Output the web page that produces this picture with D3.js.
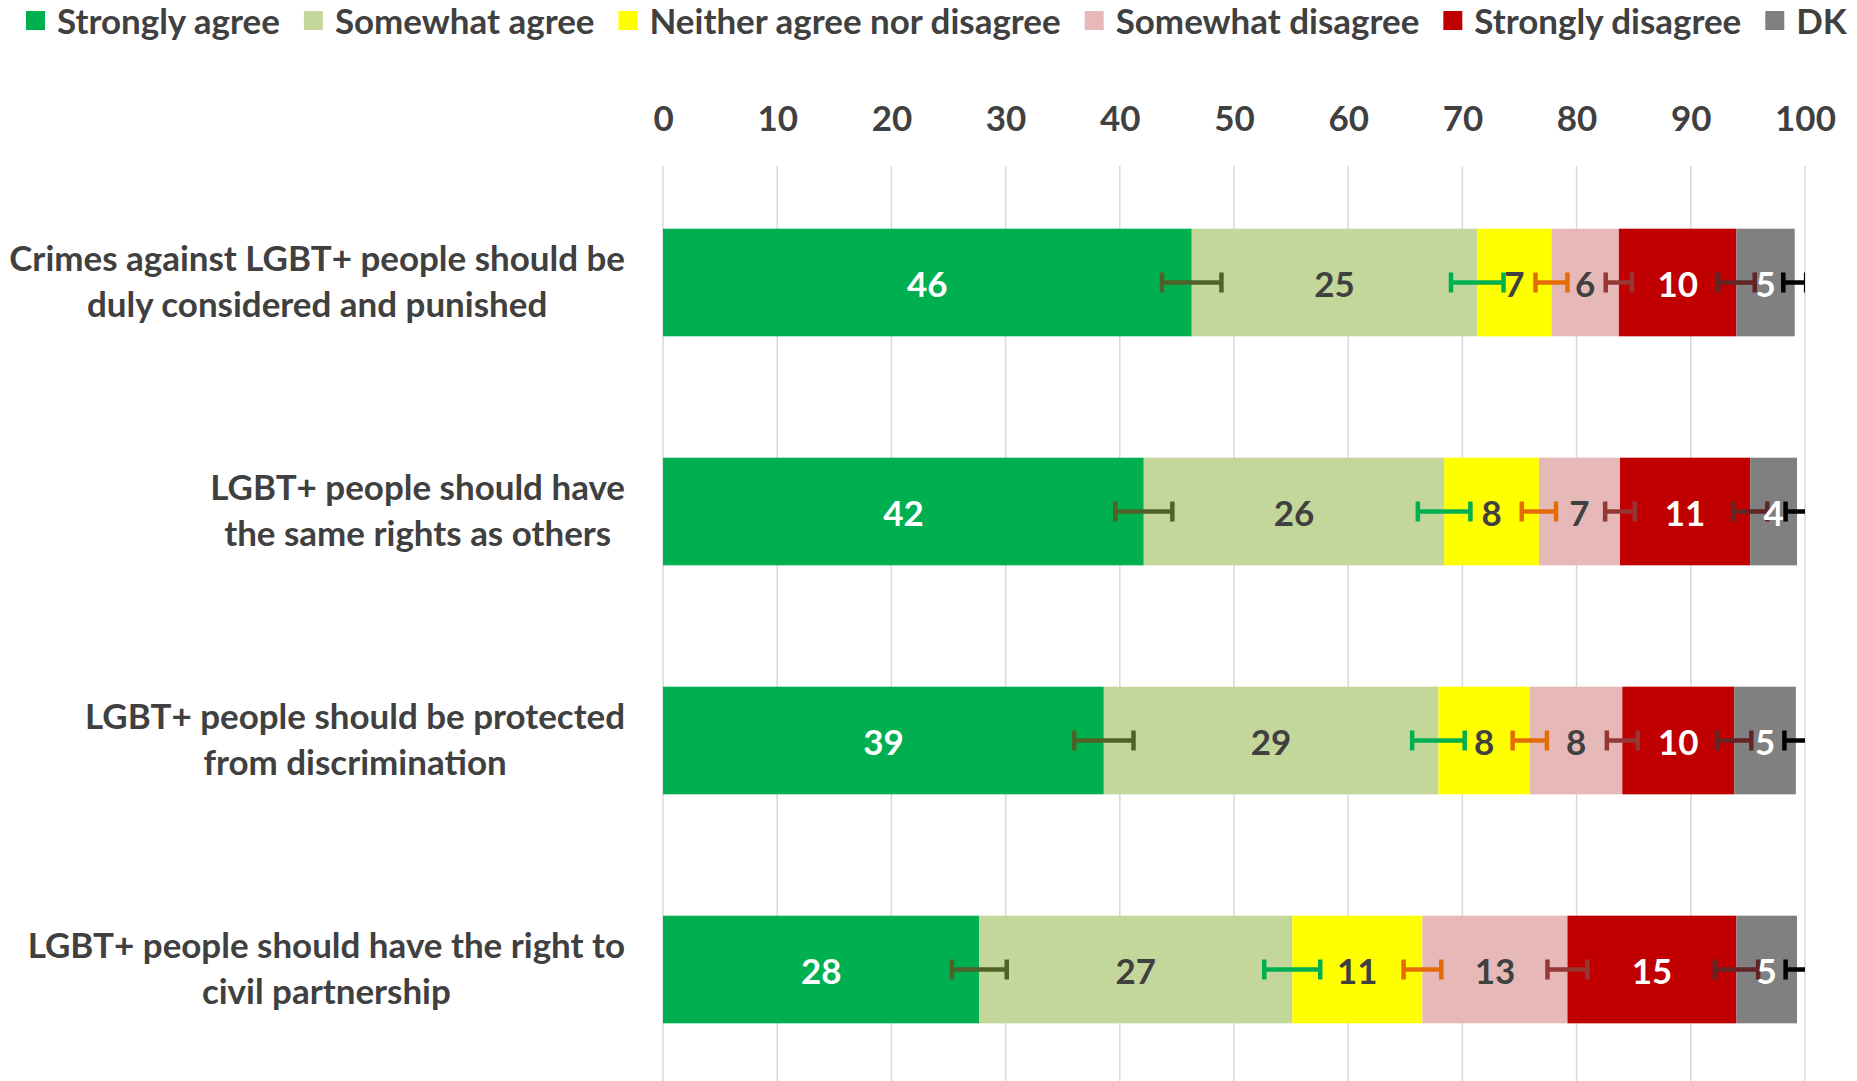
<!DOCTYPE html>
<html>
<head>
<meta charset="utf-8">
<script src="https://cdn.jsdelivr.net/npm/d3@7"></script>
<style>
  html, body { margin: 0; padding: 0; background: #fff; }
  svg { display: block; }
  text { font-family: Lato, "Open Sans", sans-serif; font-weight: 700; }
</style>
</head>
<body>
<svg id="chart" width="1857" height="1081"></svg>
<script>
// ---------------- DATA ----------------
const categories = [
  "Crimes against LGBT+ people should be\nduly considered and punished",
  "LGBT+ people should have\nthe same rights as others",
  "LGBT+ people should be protected\nfrom discrimination",
  "LGBT+ people should have the right to\ncivil partnership"
];
const seriesNames = ["Strongly agree", "Somewhat agree", "Neither agree nor disagree", "Somewhat disagree", "Strongly disagree", "DK"];

const stronglyAgree    = [46.3, 42.1, 38.6, 27.7];
const somewhatAgree    = [25.0, 26.3, 29.3, 27.4];
const neitherAgree     = [6.5, 8.3, 8.0, 11.4];
const somewhatDisagree = [5.9, 7.1, 8.1, 12.7];
const stronglyDisagree = [10.3, 11.4, 9.8, 14.8];
const dontKnow         = [5.1, 4.1, 5.4, 5.3];

// error margins (± percentage points) drawn at the end of each segment
const errStronglyAgree    = [2.6, 2.5, 2.6, 2.4];
const errSomewhatAgree    = [2.3, 2.3, 2.3, 2.45];
const errNeitherAgree     = [1.4, 1.5, 1.5, 1.65];
const errSomewhatDisagree = [1.15, 1.3, 1.35, 1.75];
const errStronglyDisagree = [1.6, 1.5, 1.5, 1.9];
const errDontKnow         = [1.0, 1.0, 1.0, 1.0];

const xTicks = [0, 10, 20, 30, 40, 50, 60, 70, 80, 90, 100];

// ---------------- STYLE ----------------
const fillColors  = ["#00B050", "#C4D79B", "#FFFF00", "#E6B9B8", "#C00000", "#808080"];
const labelColors = ["#FFFFFF", "#404040", "#404040", "#404040", "#FFFFFF", "#FFFFFF"];
const errColors   = ["#4F6228", "#00B050", "#E36C09", "#953735", "#632523", "#000000"];
const textColor = "#404040";

const seriesValues = [stronglyAgree, somewhatAgree, neitherAgree, somewhatDisagree, stronglyDisagree, dontKnow];
const seriesErrors = [errStronglyAgree, errSomewhatAgree, errNeitherAgree, errSomewhatDisagree, errStronglyDisagree, errDontKnow];

const rows = categories.map((c, i) => {
  const r = { category: c };
  seriesNames.forEach((s, j) => { r[s] = seriesValues[j][i]; });
  return r;
});

const svg = d3.select("#chart");

// font fitting: match the reference text widths
const probe = svg.append("text").attr("font-size", 100).text("Crimes against LGBT+ people should be");
const baseW = probe.node().getComputedTextLength();
probe.remove();
const fontSize = 100 * 616 / baseW;

const x = d3.scaleLinear().domain([0, 100]).range([663, 1805]);
const y = d3.scaleBand().domain(categories).range([168, 1084]).paddingInner(0.53).paddingOuter(0.265);

const stack = d3.stack().keys(seriesNames)(rows);

// clip for plot area
svg.append("clipPath").attr("id", "plotClip")
  .append("rect").attr("x", x(0) - 2).attr("y", 150).attr("width", x(100) - x(0) + 2).attr("height", 940);

// gridlines
svg.append("g")
  .selectAll("line")
  .data(xTicks)
  .join("line")
  .attr("x1", d => x(d)).attr("x2", d => x(d))
  .attr("y1", 166).attr("y2", 1081)
  .attr("stroke", "#D9D9D9").attr("stroke-width", 1.5);

// top axis labels
const axis = svg.append("g").attr("transform", "translate(0,117)")
  .call(d3.axisTop(x).tickValues(xTicks).tickSize(0).tickPadding(0).tickFormat(d3.format("d")));
axis.select(".domain").remove();
axis.selectAll("text")
  .attr("y", 0).attr("dy", null)
  .attr("dominant-baseline", "central")
  .attr("fill", textColor)
  .attr("font-size", fontSize)
  .attr("font-family", "Lato, 'Open Sans', sans-serif")
  .attr("font-weight", 700);

// bars
const layers = svg.append("g").selectAll("g")
  .data(stack)
  .join("g")
  .attr("fill", (d, i) => fillColors[i]);
layers.selectAll("rect")
  .data(d => d)
  .join("rect")
  .attr("x", d => x(d[0]))
  .attr("width", d => x(d[1]) - x(d[0]))
  .attr("y", d => y(d.data.category))
  .attr("height", y.bandwidth());

// error bars
const errG = svg.append("g").attr("clip-path", "url(#plotClip)");
stack.forEach((layer, si) => {
  layer.forEach((d, ri) => {
    const e = seriesErrors[si][ri];
    const cy = y(d.data.category) + y.bandwidth() / 2;
    const g = errG.append("g").attr("stroke", errColors[si]).attr("stroke-width", 4.5);
    g.append("line").attr("x1", x(d[1] - e)).attr("x2", x(d[1] + e)).attr("y1", cy).attr("y2", cy);
    g.append("line").attr("x1", x(d[1] - e)).attr("x2", x(d[1] - e)).attr("y1", cy - 10).attr("y2", cy + 10);
    g.append("line").attr("x1", x(d[1] + e)).attr("x2", x(d[1] + e)).attr("y1", cy - 10).attr("y2", cy + 10);
  });
});

// data labels
stack.forEach((layer, si) => {
  svg.append("g").selectAll("text")
    .data(layer)
    .join("text")
    .attr("x", d => (x(d[0]) + x(d[1])) / 2)
    .attr("y", d => y(d.data.category) + y.bandwidth() / 2 + 1)
    .attr("text-anchor", "middle")
    .attr("dominant-baseline", "central")
    .attr("fill", labelColors[si])
    .attr("font-size", fontSize)
    .text(d => Math.round(d[1] - d[0]));
});

// category labels: block right-aligned, lines centred within the block
const catG = svg.append("g");
categories.forEach(c => {
  const lines = c.split("\n");
  const cy = y(c) + y.bandwidth() / 2 - 2;
  const t = catG.append("text").attr("font-size", fontSize).attr("fill", textColor).attr("text-anchor", "middle");
  const tspans = lines.map((ln, i) => t.append("tspan").text(ln)
    .attr("y", cy + (i - (lines.length - 1) / 2) * 46)
    .attr("dominant-baseline", "central"));
  const maxW = d3.max(tspans, ts => ts.node().getComputedTextLength());
  tspans.forEach(ts => ts.attr("x", 625 - maxW / 2));
});

// legend
const legend = svg.append("g");
let lx = 26;
seriesNames.forEach((s, i) => {
  legend.append("rect").attr("x", lx).attr("y", 11).attr("width", 19).attr("height", 19).attr("fill", fillColors[i]);
  const t = legend.append("text").attr("x", lx + 31).attr("y", 20)
    .attr("dominant-baseline", "central").attr("fill", textColor).attr("font-size", fontSize).text(s);
  lx += 31 + t.node().getComputedTextLength() + 24;
});
</script>
</body>
</html>
